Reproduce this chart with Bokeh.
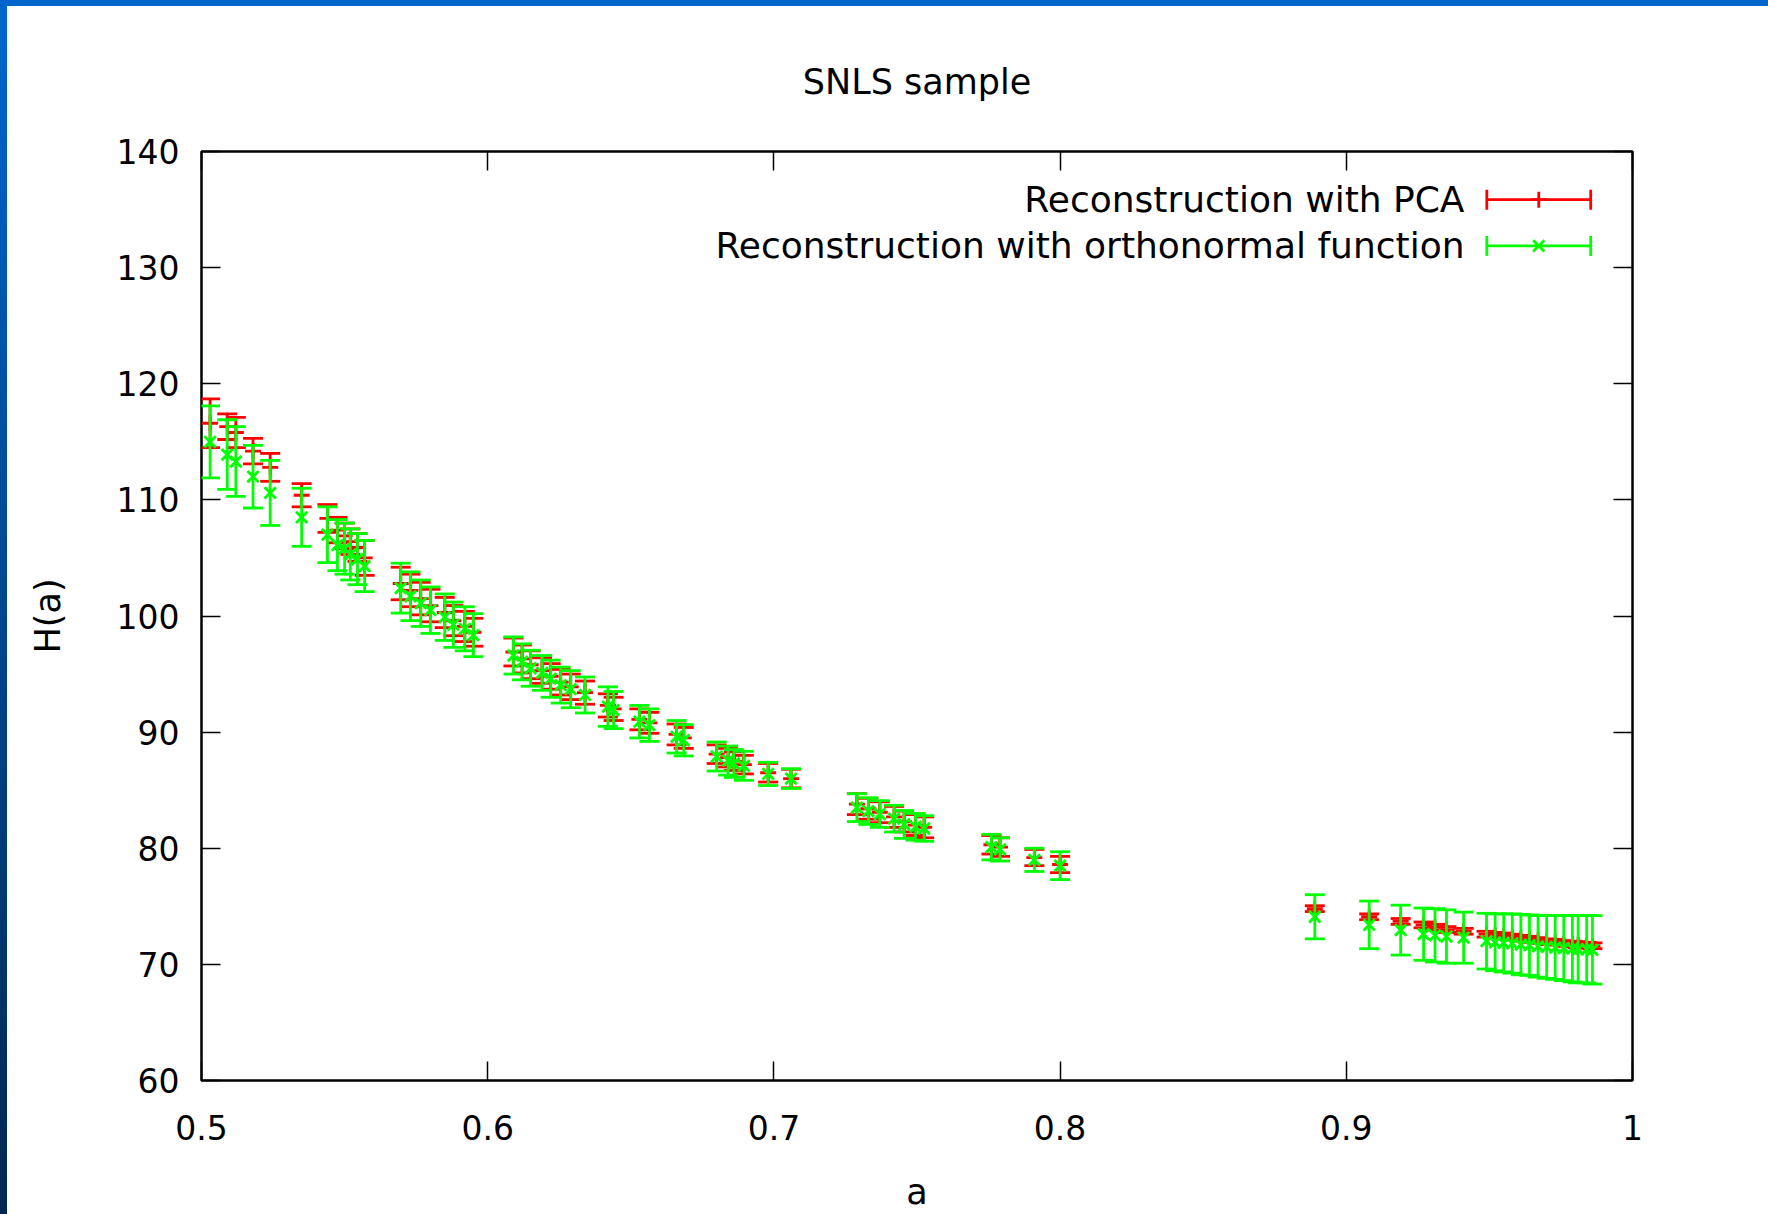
import numpy as np
from bokeh.plotting import figure
from bokeh.models import (ColumnDataSource, LinearAxis, Range1d, Label, FixedTicker, Div,
                          CustomJSTickFormatter)
from bokeh.layouts import column, row
from bokeh.embed import file_html
from bokeh.resources import INLINE

# ---------------- data ----------------
title_text = "SNLS sample"
x_label = "a"
y_label = "H(a)"
series_names = ["Reconstruction with PCA", "Reconstruction with orthonormal function"]

a_vals = [0.503, 0.509, 0.512, 0.518, 0.524, 0.535, 0.544, 0.5475, 0.550, 0.552,
          0.5545, 0.557, 0.5696, 0.573, 0.5766, 0.580, 0.585, 0.588, 0.592, 0.595,
          0.609, 0.612, 0.615, 0.619, 0.622, 0.6255, 0.629, 0.634, 0.642, 0.644,
          0.653, 0.6565, 0.666, 0.6685, 0.680, 0.684, 0.686, 0.6895, 0.698, 0.706,
          0.729, 0.733, 0.737, 0.742, 0.7455, 0.7495, 0.7525, 0.776, 0.779, 0.791,
          0.800, 0.889, 0.908, 0.919, 0.927, 0.931, 0.935, 0.941, 0.949, 0.952,
          0.955, 0.958, 0.961, 0.964, 0.967, 0.970, 0.973, 0.976, 0.979, 0.981,
          0.984, 0.986]

h_pca = [116.6, 116.3, 115.8, 114.2, 112.8, 110.4, 108.4, 107.4, 106.9, 106.4,
         105.9, 105.0, 102.8, 102.2, 101.5, 100.9, 100.3, 99.6, 99.1, 98.6,
         96.9, 96.3, 95.8, 95.3, 94.8, 94.3, 93.9, 93.4, 92.3, 92.0,
         91.1, 90.8, 89.8, 89.5, 88.1, 87.8, 87.5, 87.2, 86.5, 86.0,
         83.8, 83.4, 83.1, 82.7, 82.3, 82.0, 81.8, 80.3, 80.1, 79.2,
         78.6, 74.8, 74.1, 73.7, 73.4, 73.2, 73.0, 72.85, 72.6, 72.5,
         72.45, 72.35, 72.25, 72.15, 72.05, 71.95, 71.9, 71.8, 71.75, 71.7,
         71.65, 71.6]

err_pca = [2.1, 1.1, 1.3, 1.1, 1.2, 1.0, 1.2, 1.1, 1.1, 1.1,
           1.2, 1.5, 1.4, 1.4, 1.4, 1.4, 1.3, 1.3, 1.3, 1.2,
           1.2, 1.2, 1.2, 1.1, 1.1, 1.1, 1.1, 1.0, 1.0, 1.0,
           0.9, 0.9, 0.9, 0.9, 0.8, 0.8, 0.8, 0.8, 0.8, 0.8,
           0.9, 0.9, 0.9, 0.9, 0.9, 0.9, 0.9, 0.8, 0.8, 0.7,
           0.7, 0.25, 0.25, 0.25, 0.25, 0.25, 0.25, 0.25, 0.25, 0.25,
           0.25, 0.25, 0.25, 0.25, 0.25, 0.25, 0.25, 0.25, 0.25, 0.25,
           0.25, 0.25]

h_orth = [115.0, 113.9, 113.3, 112.0, 110.6, 108.5, 107.0, 106.1, 105.8, 105.3,
          104.9, 104.3, 102.4, 101.7, 101.1, 100.5, 99.9, 99.25, 98.9, 98.35,
          96.6, 96.05, 95.5, 95.1, 94.6, 94.05, 93.7, 93.2, 92.2, 91.9,
          90.9, 90.6, 89.6, 89.3, 87.9, 87.55, 87.3, 87.1, 86.4, 86.0,
          83.5, 83.2, 82.95, 82.55, 82.05, 81.85, 81.7, 80.1, 79.9, 79.0,
          78.5, 74.1, 73.4, 72.95, 72.6, 72.5, 72.4, 72.3, 72.0, 71.9,
          71.85, 71.8, 71.7, 71.65, 71.55, 71.5, 71.45, 71.4, 71.35, 71.3,
          71.3, 71.25]

err_orth = [3.1, 3.0, 3.0, 2.7, 2.8, 2.5, 2.4, 2.2, 2.2, 2.2,
            2.2, 2.2, 2.15, 2.1, 2.0, 2.0, 2.0, 1.95, 1.9, 1.85,
            1.6, 1.55, 1.55, 1.5, 1.6, 1.55, 1.6, 1.55, 1.7, 1.6,
            1.4, 1.4, 1.4, 1.35, 1.25, 1.25, 1.2, 1.25, 1.0, 0.85,
            1.2, 1.15, 1.15, 1.15, 1.2, 1.15, 1.1, 1.1, 1.0, 1.0,
            1.2, 1.9, 2.05, 2.15, 2.25, 2.3, 2.3, 2.2, 2.4, 2.45,
            2.5, 2.55, 2.6, 2.6, 2.65, 2.7, 2.75, 2.8, 2.85, 2.9,
            2.9, 2.95]

x_ticks = [0.5, 0.6, 0.7, 0.8, 0.9, 1.0]
y_ticks = [60, 70, 80, 90, 100, 110, 120, 130, 140]

# ---------------- styling ----------------
FONT = "DejaVu Sans"
RED = "#ff0000"
GREEN = "#00ff00"
LW = 2.8

p = figure(width=1761, height=1208,
           x_range=Range1d(0.5, 1.0), y_range=Range1d(60, 140),
           output_backend="svg", toolbar_location=None,
           min_border_left=194, min_border_right=136,
           min_border_top=145, min_border_bottom=134,
           x_axis_label=x_label, y_axis_label=y_label, title=title_text)

p.background_fill_color = "white"
p.border_fill_color = "white"
p.outline_line_color = "black"
p.outline_line_width = 2.5
p.xgrid.visible = False
p.ygrid.visible = False

p.title.text_font = FONT
p.title.text_font_size = "35px"
p.title.text_font_style = "normal"
p.title.text_color = "black"
p.title.align = "center"
p.title.standoff = 100

p.xaxis.ticker = FixedTicker(ticks=x_ticks)
p.yaxis.ticker = FixedTicker(ticks=y_ticks)
p.xaxis.major_label_overrides = {1: "1"}

def style_axis(ax, show_labels):
    ax.axis_line_color = None
    ax.major_tick_in = 19
    ax.major_tick_out = 0
    ax.minor_tick_line_color = None
    ax.major_tick_line_color = "black"
    ax.major_tick_line_width = 1.5
    ax.major_label_text_font = FONT
    ax.major_label_text_color = "black"
    if show_labels:
        ax.major_label_text_font_size = "33px"
    else:
        ax.formatter = CustomJSTickFormatter(code="return '';")
        ax.major_label_text_font_size = "1px"
        ax.major_label_standoff = 0

for ax in p.xaxis:
    style_axis(ax, True)
    ax.major_label_standoff = 34
    ax.axis_label_text_font = FONT
    ax.axis_label_text_font_size = "35px"
    ax.axis_label_text_font_style = "normal"
    ax.axis_label_text_color = "black"
    ax.axis_label_standoff = 29
for ax in p.yaxis:
    style_axis(ax, True)
    ax.major_label_standoff = 22
    ax.axis_label_text_font = FONT
    ax.axis_label_text_font_size = "35px"
    ax.axis_label_text_font_style = "normal"
    ax.axis_label_text_color = "black"
    ax.axis_label_standoff = 46

top_ax = LinearAxis(ticker=FixedTicker(ticks=x_ticks))
style_axis(top_ax, False)
p.add_layout(top_ax, "above")
right_ax = LinearAxis(ticker=FixedTicker(ticks=y_ticks))
style_axis(right_ax, False)
p.add_layout(right_ax, "right")

# ---------------- error bars ----------------
def draw_series(h, err, color, marker):
    h = np.array(h)
    err = np.array(err)
    src = ColumnDataSource(dict(a=a_vals, h=h, lo=h - err, hi=h + err))
    p.segment(x0="a", y0="lo", x1="a", y1="hi", source=src, line_color=color, line_width=LW)
    p.scatter(x="a", y="lo", source=src, marker="dash", size=20, line_color=color, line_width=LW)
    p.scatter(x="a", y="hi", source=src, marker="dash", size=20, line_color=color, line_width=LW)
    p.scatter(x="a", y="h", source=src, marker=marker, size=16, line_color=color, line_width=LW)

draw_series(h_pca, err_pca, RED, "cross")
draw_series(h_orth, err_orth, GREEN, "x")

# ---------------- legend (gnuplot style: text then key) ----------------
leg_text_x = 0.9413
leg_key_x0, leg_key_x1 = 0.9491, 0.9854
leg_rows_y = [135.85, 131.87]
for name, ly, color, marker in zip(series_names, leg_rows_y, [RED, GREEN], ["cross", "x"]):
    p.add_layout(Label(x=leg_text_x, y=ly, text=name, text_align="right",
                       text_baseline="middle", text_font=FONT,
                       text_font_size="36px", text_color="black"))
    ksrc = ColumnDataSource(dict(x0=[leg_key_x0], x1=[leg_key_x1], y=[ly],
                                 xm=[(leg_key_x0 + leg_key_x1) / 2]))
    p.segment(x0="x0", y0="y", x1="x1", y1="y", source=ksrc, line_color=color, line_width=LW)
    p.scatter(x="x0", y="y", source=ksrc, marker="dash", angle=np.pi / 2, size=20,
              line_color=color, line_width=LW)
    p.scatter(x="x1", y="y", source=ksrc, marker="dash", angle=np.pi / 2, size=20,
              line_color=color, line_width=LW)
    p.scatter(x="xm", y="y", source=ksrc, marker=marker, size=16, line_color=color, line_width=LW)

# ---------------- slide background strips ----------------
top_bar = Div(text="", width=1768, height=6, margin=0,
              styles={"background": "#0066cc"})
left_bar = Div(text="", width=7, height=1208, margin=0,
               styles={"background": "linear-gradient(#0066cc, #00284f)"})

layout = column(top_bar, row(left_bar, p, spacing=0), spacing=0)

open("out.html", "w").write(file_html(layout, INLINE))
